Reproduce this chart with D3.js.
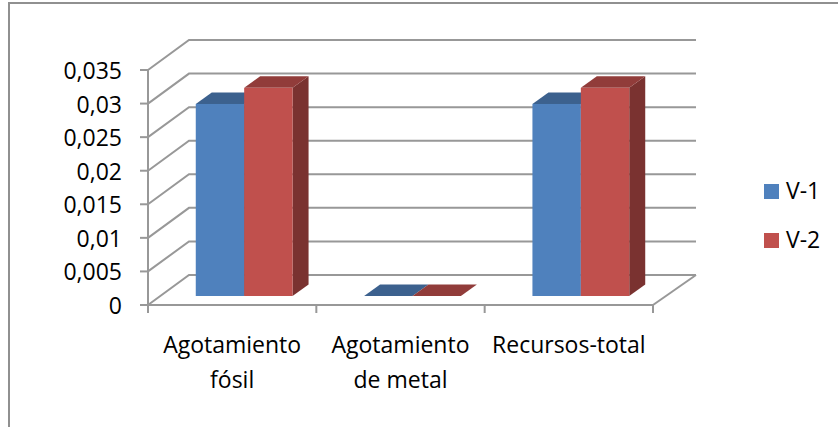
<!DOCTYPE html>
<html><head><meta charset="utf-8">
<style>html,body{margin:0;background:#fff}svg{display:block}text{font-family:"Open Sans",sans-serif;fill:#000}</style>
<script src="https://cdn.jsdelivr.net/npm/d3@7"></script></head>
<body><svg id="c" width="838" height="427"></svg>
<script>
const categories = [["Agotamiento","fósil"],["Agotamiento","de metal"],["Recursos-total"]];
const seriesNames = ["V-1","V-2"];
const v1 = [0.0286,0,0.0286];
const v2 = [0.031,0,0.031];
const yTicks = [0,0.005,0.01,0.015,0.02,0.025,0.03,0.035];
const colors = {"V-1":["#4f81bd","#3c618e","#345578"],"V-2":["#c0504d","#913c3a","#7a3230"]};

const svg = d3.select("#c");
const gridCol = "#989898";
const fontSize = 23;
// Frame: only the top and left edges sit inside the canvas
svg.append("path").attr("fill","none").attr("stroke","#909090").attr("stroke-width",2)
  .attr("d",d3.line()([[9,427],[9,3],[838,3]]));

const y = d3.scaleLinear().domain([0,0.035]).range([305,70]);
const x = d3.scaleBand().domain(d3.range(categories.length)).range([148,653]);
const wallDx = 41, wallDy = -30;

// Back wall gridlines and their slanted returns to the axis
yTicks.forEach(t=>{
  svg.append("path").attr("fill","none").attr("stroke",gridCol).attr("stroke-width",2)
    .attr("d",d3.line()([[148,y(t)],[148+wallDx,y(t)+wallDy],[148+wallDx+507,y(t)+wallDy]]));
});
// Floor edge
svg.append("path").attr("fill","none").attr("stroke",gridCol).attr("stroke-width",2)
  .attr("d",d3.line()([[653,y(0)],[653+wallDx+2,y(0)+wallDy]]));
// Value axis
svg.append("line").attr("x1",148).attr("x2",148).attr("y1",y(0)).attr("y2",y(0.035)).attr("stroke",gridCol).attr("stroke-width",2);
yTicks.forEach(t=>{
  svg.append("line").attr("x1",140).attr("x2",148).attr("y1",y(t)).attr("y2",y(t)).attr("stroke",gridCol).attr("stroke-width",2);
  svg.append("text").attr("x",122).attr("y",y(t)+9).attr("text-anchor","end").attr("font-size",fontSize)
    .text(String(t).replace(".",","));
});
// Category axis
svg.append("line").attr("x1",140).attr("x2",653).attr("y1",y(0)).attr("y2",y(0)).attr("stroke",gridCol).attr("stroke-width",2);
d3.range(categories.length+1).forEach(i=>{
  const px = 148+i*x.step();
  svg.append("line").attr("x1",px).attr("x2",px).attr("y1",y(0)).attr("y2",y(0)+8).attr("stroke",gridCol).attr("stroke-width",2);
});

// Extruded columns
const barW = 48.4, depthX = 16, depthY = -11.5, liftX = 12, liftY = -9;
const series = [v1,v2];
categories.forEach((c,i)=>{
  const cx = x(i)+x.bandwidth()/2+liftX;
  seriesNames.forEach((name,s)=>{
    const val = series[s][i];
    const x0 = cx-barW+s*barW, x1 = x0+barW;
    const base = y(0)+liftY, top = y(val)+liftY;
    const col = colors[name];
    const g = svg.append("g");
    g.append("path").attr("fill",col[2]).attr("d",d3.line()([[x1,top],[x1+depthX,top+depthY],[x1+depthX,base+depthY],[x1,base]])+"Z");
    g.append("path").attr("fill",col[1]).attr("d",d3.line()([[x0,top],[x0+depthX,top+depthY],[x1+depthX,top+depthY],[x1,top]])+"Z");
    g.append("rect").attr("x",x0).attr("y",top).attr("width",barW).attr("height",base-top).attr("fill",col[0]);
  });
  c.forEach((line,k)=>{
    svg.append("text").attr("x",x(i)+x.bandwidth()/2).attr("y",353+k*35).attr("text-anchor","middle").attr("font-size",fontSize).text(line);
  });
});

// Legend
seriesNames.forEach((name,s)=>{
  const ly = 184+s*49;
  svg.append("rect").attr("x",764).attr("y",ly).attr("width",15).attr("height",15).attr("fill",colors[name][0]);
  svg.append("text").attr("x",786).attr("y",ly+15).attr("font-size",fontSize).text(name);
});
</script></body></html>
